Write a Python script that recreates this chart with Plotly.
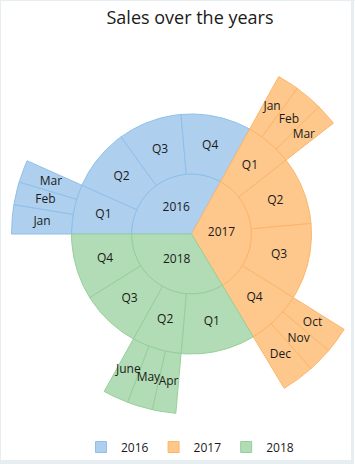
import numpy as np
import plotly.graph_objects as go

# ---------------- data ----------------
years = ["2016", "2017", "2018"]
quarters = ["Q1", "Q2", "Q3", "Q4"]
quarter_sales = {
    "2016": [24, 30, 31, 34],
    "2017": [23, 33, 37, 27],
    "2018": [36, 24, 29, 32],
}
month_labels = {
    ("2016", "Q1"): ["Jan", "Feb", "Mar"],
    ("2017", "Q1"): ["Jan", "Feb", "Mar"],
    ("2017", "Q4"): ["Oct", "Nov", "Dec"],
    ("2018", "Q2"): ["Apr", "May", "June"],
}
month_sales = {
    ("2016", "Q1"): [9.4, 7.4, 7.2],
    ("2017", "Q1"): [7, 9, 7],
    ("2017", "Q4"): [8.4, 8, 10.6],
    ("2018", "Q2"): [7.6, 8.2, 8.2],
}

# ---------------- style ----------------
fill_colors = {"2016": "#aed0ee", "2017": "#fec88c", "2018": "#b2dcb5"}
line_colors = {"2016": "#8fc0e9", "2017": "#fdb56a", "2018": "#97cf9a"}
RING = 60.0          # ring thickness (px units)
START = 180.0        # start angle (degrees, counterclockwise from east)
FONT = "Open Sans"
TXT = "#1a1a1a"

total = sum(sum(v) for v in quarter_sales.values())
deg_per_unit = 360.0 / total


def ang(cum):
    return START - cum * deg_per_unit  # clockwise


def wedge(a0, a1, r0, r1):
    n = max(int(abs(a1 - a0) * 2), 2) + 1
    t = np.radians(np.linspace(a0, a1, n))
    xo, yo = r1 * np.cos(t), r1 * np.sin(t)
    if r0 == 0:
        xs = np.concatenate([[0], xo, [0]])
        ys = np.concatenate([[0], yo, [0]])
    else:
        xi, yi = r0 * np.cos(t[::-1]), r0 * np.sin(t[::-1])
        xs = np.concatenate([xo, xi, [xo[0]]])
        ys = np.concatenate([yo, yi, [yo[0]]])
    return xs, ys


fig = go.Figure()
lab_x, lab_y, lab_t = [], [], []


def add_slice(year, name, v0, v1, level):
    a0, a1 = ang(v0), ang(v1)
    r0, r1 = level * RING, (level + 1) * RING
    xs, ys = wedge(a0, a1, r0, r1)
    fig.add_trace(go.Scatter(
        x=xs, y=ys, mode="lines", fill="toself",
        fillcolor=fill_colors[year],
        line=dict(color=line_colors[year], width=1),
        hoverinfo="text", text=f"{year} {name}" if level else year,
        hoveron="fills", showlegend=False, legendgroup=year,
    ))
    am = np.radians((a0 + a1) / 2)
    rm = (r0 + r1) / 2
    lab_x.append(rm * np.cos(am))
    lab_y.append(rm * np.sin(am))
    lab_t.append(name)


cum = 0.0
for y in years:
    ys_total = sum(quarter_sales[y])
    add_slice(y, y, cum, cum + ys_total, 0)
    qc = cum
    for q, qv in zip(quarters, quarter_sales[y]):
        add_slice(y, q, qc, qc + qv, 1)
        if (y, q) in month_labels:
            mc = qc
            for m, mv in zip(month_labels[(y, q)], month_sales[(y, q)]):
                add_slice(y, m, mc, mc + mv, 2)
                mc += mv
        qc += qv
    cum += ys_total

fig.add_trace(go.Scatter(
    x=lab_x, y=lab_y, text=lab_t, mode="text", textposition="middle center",
    textfont=dict(family=FONT, size=12, color=TXT),
    hoverinfo="skip", showlegend=False,
))

# legend entries
for y in years:
    fig.add_trace(go.Scatter(
        x=[None], y=[None], mode="markers", name=y, legendgroup=y,
        marker=dict(symbol="square", size=11, color=fill_colors[y],
                    line=dict(color=line_colors[y], width=1)),
    ))

W, H = 355, 464
CX, CY = 191.5, 234.0
fig.update_layout(
    width=W, height=H,
    margin=dict(l=0, r=0, t=0, b=0),
    paper_bgcolor="white", plot_bgcolor="white",
    xaxis=dict(range=[-CX, W - CX], visible=False, fixedrange=True),
    yaxis=dict(range=[-(H - CY), CY], visible=False, fixedrange=True),
    title=dict(text="Sales over the years", x=190 / W, xanchor="center",
               y=1 - 18 / H, yanchor="middle", yref="container",
               font=dict(family=FONT, size=18, color=TXT)),
    legend=dict(orientation="h", x=190 / W, xanchor="center",
                y=1 - 447 / H, yanchor="middle",
                font=dict(family=FONT, size=12, color=TXT),
                itemwidth=30, bgcolor="rgba(0,0,0,0)"),
    shapes=[
        dict(type="rect", xref="paper", yref="paper", x0=0, x1=1 / W, y0=0, y1=1,
             fillcolor="#e6eef2", line_width=0, layer="above"),
        dict(type="rect", xref="paper", yref="paper", x0=0, x1=1, y0=1 - 1 / H, y1=1,
             fillcolor="#e6eef2", line_width=0, layer="above"),
        dict(type="rect", xref="paper", yref="paper", x0=351 / W, x1=354 / W, y0=0, y1=1,
             fillcolor="#e6eef2", line_width=0, layer="above"),
        dict(type="rect", xref="paper", yref="paper", x0=0, x1=354 / W, y0=0, y1=4 / H,
             fillcolor="#e6eef2", line_width=0, layer="above"),
    ],
)

fig.write_html("out.html")
